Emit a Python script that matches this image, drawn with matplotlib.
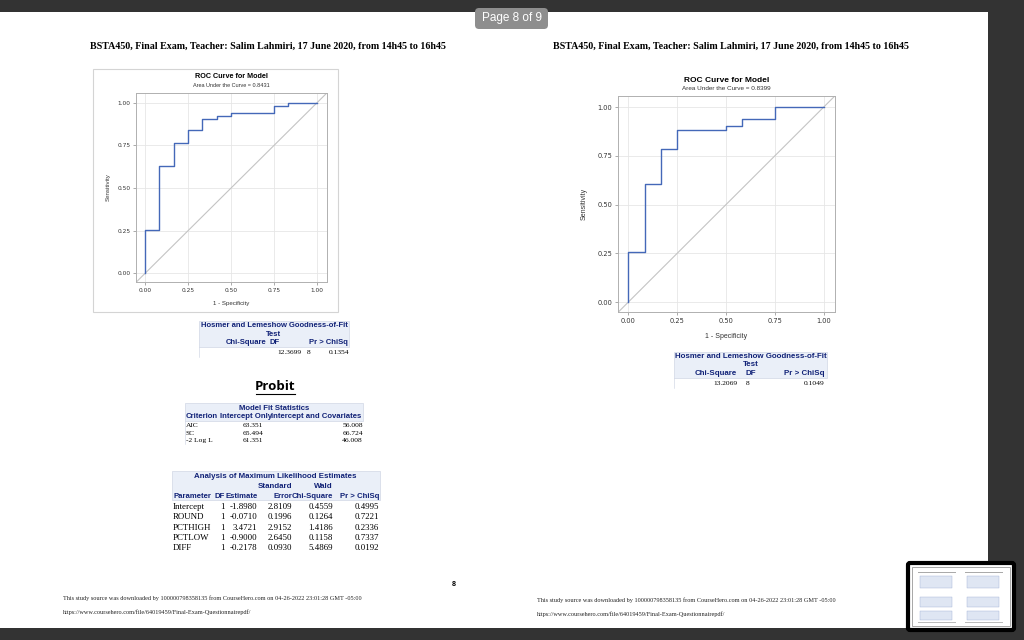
import matplotlib.pyplot as plt
from matplotlib.patches import Rectangle, FancyBboxPatch

W, H = 1024, 640

# ---- data ----
header = "BSTA450, Final Exam, Teacher: Salim Lahmiri, 17 June 2020, from 14h45 to 16h45"
footer_src = ("This study source was downloaded by 100000798358135 from CourseHero.com "
              "on 04-26-2022 23:01:28 GMT -05:00")
footer_url = "https://www.coursehero.com/file/64019459/Final-Exam-Questionnairepdf/"

roc_ticks = [0.0, 0.25, 0.5, 0.75, 1.0]
fpr_left = [0, 0, 1/12, 2/12, 3/12, 4/12, 5/12, 6/12, 9/12, 10/12, 1]
tpr_left = [0, 0.255, 0.627, 0.765, 0.843, 0.902, 0.922, 0.941, 0.980, 1.0, 1.0]
auc_left = 0.8431
fpr_right = [0, 0, 1/12, 2/12, 3/12, 6/12, 7/12, 9/12, 1]
tpr_right = [0, 0.255, 0.608, 0.784, 0.882, 0.902, 0.941, 1.0, 1.0]
auc_right = 0.8399

hl_cols = ["Chi-Square", "DF", "Pr > ChiSq"]
hl_left = [12.3699, 8, 0.1354]
hl_right = [13.2069, 8, 0.1049]

fit_cols = ["Criterion", "Intercept Only", "Intercept and Covariates"]
fit_rows = ["AIC", "SC", "-2 Log L"]
fit_only = [63.351, 65.494, 61.351]
fit_cov = [56.008, 66.724, 46.008]

mle_cols = ["Parameter", "DF", "Estimate", "Error", "Chi-Square", "Pr > ChiSq"]
mle_params = ["Intercept", "ROUND", "PCTHIGH", "PCTLOW", "DIFF"]
mle_df = [1, 1, 1, 1, 1]
mle_est = [-1.8980, -0.0710, 3.4721, -0.9000, -0.2178]
mle_se = [2.8109, 0.1996, 2.9152, 2.6450, 0.0930]
mle_wald = [0.4559, 0.1264, 1.4186, 0.1158, 5.4869]
mle_p = [0.4995, 0.7221, 0.2336, 0.7337, 0.0192]

CURVE = "#4468b8"
HEAD_BG = "#eaeff8"
HEAD_FG = "#112277"
SANS = "Liberation Sans"
SERIF = "Liberation Serif"

fig = plt.figure(figsize=(W / 100, H / 100), dpi=100)
fig.patch.set_facecolor("white")
bg = fig.add_axes([0, 0, 1, 1])
bg.set_xlim(0, W)
bg.set_ylim(H, 0)
bg.axis("off")


def txt(x, y, s, size, ha="left", bold=False, family=SANS, color="black", **kw):
    bg.text(x, y, s, fontsize=size, ha=ha, va="center", family=family,
            fontweight="bold" if bold else "normal", color=color, **kw)


def box(x0, y0, x1, y1, fc="none", ec="none", lw=0.6, z=0):
    bg.add_patch(Rectangle((x0, y0), x1 - x0, y1 - y0, facecolor=fc,
                           edgecolor=ec, lw=lw, zorder=z))


# viewer chrome
box(0, 0, W, 12, fc="#333333", z=5)
box(0, 628, W, H, fc="#333333", z=5)
box(988, 0, W, H, fc="#333333", z=5)
bg.add_patch(FancyBboxPatch((475, 8), 73, 21, boxstyle="round,pad=0,rounding_size=4",
                            fc="#8e8e8e", ec="none", zorder=6))
txt(511.5, 18.5, "Page 8 of 9", 8.5, ha="center", color="white", zorder=7)

# page headers / footers
txt(90, 46, header, 7.2, bold=True, family=SERIF)
txt(553, 46, header, 7.2, bold=True, family=SERIF)
for x0, y0 in [(63, 598), (537, 600)]:
    txt(x0, y0, footer_src, 4.5, family=SERIF, color="#222222")
    txt(x0, y0 + 14, footer_url, 4.5, family=SERIF, color="#222222")
txt(454, 584, "8", 5, ha="center", bold=True)


def draw_roc(rect, fpr, tpr, auc, fs, lab_x, lab_y):
    x0, y0, x1, y1 = rect
    ax = fig.add_axes([x0 / W, 1 - y1 / H, (x1 - x0) / W, (y1 - y0) / H])
    ax.set_xlim(-0.053, 1.058)
    ax.set_ylim(-0.051, 1.057)
    ax.set_xticks(roc_ticks)
    ax.set_yticks(roc_ticks)
    ax.set_xticklabels([f"{t:.2f}" for t in roc_ticks])
    ax.set_yticklabels([f"{t:.2f}" for t in roc_ticks])
    ax.tick_params(labelsize=fs, colors="#333333", length=2, width=0.5, pad=2,
                   color="#888888")
    ax.grid(True, color="#e6e6e6", lw=0.6)
    ax.set_axisbelow(True)
    for s in ax.spines.values():
        s.set_color("#b0b0b0")
        s.set_linewidth(0.7)
    ax.axline((0, 0), (1, 1), color="#c4c4c4", lw=0.8)
    ax.plot(fpr, tpr, drawstyle="steps-post", color=CURVE, lw=1.0)
    cx = (x0 + x1) / 2
    txt(cx, y0 - 16, "ROC Curve for Model", fs * 1.25, ha="center", bold=True)
    txt(cx, y0 - 7.5, f"Area Under the Curve = {auc:.4f}", fs * 0.95, ha="center",
        color="#333333")
    txt(cx, lab_y, "1 - Specificity", fs * 1.05, ha="center", color="#333333")
    txt(lab_x, (y0 + y1) / 2, "Sensitivity", fs * 1.05, ha="center",
        color="#333333", rotation=90)


box(93, 69, 338, 312, ec="#d4d4d4", lw=0.8)
draw_roc((136, 93, 327, 282), fpr_left, tpr_left, auc_left, 4.2, 108, 303)
draw_roc((618, 96, 835, 312), fpr_right, tpr_right, auc_right, 4.8, 584, 336)


def hl_table(x0, x1, y0, pos_head, pos_data, vals, hs, ds):
    box(x0, y0, x1, y0 + 26, fc=HEAD_BG, ec="#c8cfe0", lw=0.4)
    cx = (x0 + x1) / 2
    txt(cx, y0 + 4.5, "Hosmer and Lemeshow Goodness-of-Fit", hs, ha="center",
        bold=True, color=HEAD_FG)
    txt(cx, y0 + 13, "Test", hs, ha="center", bold=True, color=HEAD_FG)
    for name, (x, ha) in zip(hl_cols, pos_head):
        txt(x, y0 + 21.5, name, hs, ha=ha, bold=True, color=HEAD_FG)
    fmts = ["{:.4f}", "{:d}", "{:.4f}"]
    for v, f, (x, ha) in zip(vals, fmts, pos_data):
        txt(x, y0 + 31.5, f.format(v), ds, ha=ha, family=SERIF)
    bg.plot([x0, x0], [y0 + 26, y0 + 36], color="#c8cfe0", lw=0.4)


hl_table(199, 349, 321, [(267, "right"), (275, "center"), (348, "right")],
         [(302, "right"), (308.5, "center"), (349, "right")], hl_left, 5.5, 5.4)
hl_table(674, 827, 352, [(737, "right"), (751, "center"), (825, "right")],
         [(738, "right"), (747.5, "center"), (825, "right")], hl_right, 5.7, 5.4)

# Probit heading
txt(275.5, 386.5, "Probit", 9.5, ha="center", bold=True, family="Open Sans")
bg.plot([256, 295], [394, 394], color="black", lw=0.8)

# Model fit statistics
box(185, 403, 363, 421, fc=HEAD_BG, ec="#c8cfe0", lw=0.4)
txt(274, 409, "Model Fit Statistics", 5.6, ha="center", bold=True, color=HEAD_FG)
txt(185.5, 417, fit_cols[0], 5.6, bold=True, color=HEAD_FG)
txt(220, 417, fit_cols[1], 5.6, bold=True, color=HEAD_FG)
txt(271, 417, fit_cols[2], 5.6, bold=True, color=HEAD_FG)
for i, (r, a, b) in enumerate(zip(fit_rows, fit_only, fit_cov)):
    yy = 425.7 + i * 7.5
    txt(186, yy, r, 5.4, family=SERIF)
    txt(242.5, yy, f"{a:.3f}", 5.4, family=SERIF)
    txt(363, yy, f"{b:.3f}", 5.4, ha="right", family=SERIF)
bg.plot([185, 185], [421, 444], color="#c8cfe0", lw=0.4)

# Analysis of maximum likelihood estimates
box(172, 471, 380, 500, fc=HEAD_BG, ec="#c8cfe0", lw=0.4)
txt(275, 477, "Analysis of Maximum Likelihood Estimates", 5.65, ha="center",
    bold=True, color=HEAD_FG)
txt(292, 487, "Standard", 5.65, ha="right", bold=True, color=HEAD_FG)
txt(333, 487, "Wald", 5.65, ha="right", bold=True, color=HEAD_FG)
head_pos = [(173, "left"), (214.5, "left"), (225.5, "left"), (292, "right"),
            (333, "right"), (379, "right")]
for name, (x, ha) in zip(mle_cols, head_pos):
    txt(x, 496, name, 5.6, ha=ha, bold=True, color=HEAD_FG)
for i in range(len(mle_params)):
    yy = 507.3 + i * 10.1
    txt(173, yy, mle_params[i], 6.4, family=SERIF)
    txt(225, yy, str(mle_df[i]), 6.4, ha="right", family=SERIF)
    txt(257, yy, f"{mle_est[i]:.4f}", 6.4, ha="right", family=SERIF)
    txt(292, yy, f"{mle_se[i]:.4f}", 6.4, ha="right", family=SERIF)
    txt(333, yy, f"{mle_wald[i]:.4f}", 6.4, ha="right", family=SERIF)
    txt(379, yy, f"{mle_p[i]:.4f}", 6.4, ha="right", family=SERIF)

# page thumbnail in the corner
bg.add_patch(FancyBboxPatch((908, 563), 106, 67, boxstyle="round,pad=0,rounding_size=2",
                            fc="white", ec="black", lw=3, zorder=8))
box(912, 567, 1010, 626, fc="white", ec="#999999", lw=0.6, z=9)
for tx in (918, 965):
    box(tx, 572, tx + 38, 573, fc="#aaaaaa", z=10)
    for ty, th in [(576, 12), (597, 10), (611, 9)]:
        box(tx + 2, ty, tx + 34, ty + th, fc="#dfe6f3", ec="#9fb0d4", lw=0.3, z=10)
    box(tx, 622, tx + 38, 623, fc="#bbbbbb", z=10)

fig.savefig("out.png", dpi=100)
